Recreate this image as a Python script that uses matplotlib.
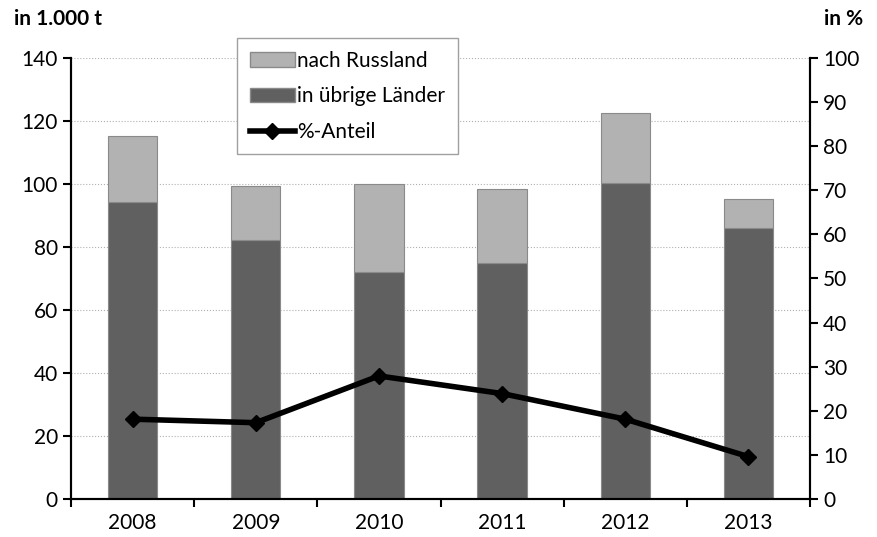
import matplotlib.pyplot as plt
from matplotlib.lines import Line2D
from matplotlib.patches import Patch

plt.rcParams['font.family'] = ['Lato', 'DejaVu Sans']

years = ['2008', '2009', '2010', '2011', '2012', '2013']
uebrige = [94.3, 82.2, 72.1, 74.9, 100.3, 86.0]
russland = [20.9, 17.2, 27.9, 23.5, 22.2, 9.2]
anteil = [18.1, 17.3, 27.9, 23.9, 18.1, 9.6]

fig = plt.figure(figsize=(8.78, 5.37), dpi=100)
ax = fig.add_axes([0.0809, 0.0708, 0.8417, 0.8212])
ax2 = ax.twinx()

x = list(range(len(years)))
ax.bar(x, uebrige, width=0.4, color='#606060', edgecolor='#8a8a8a', linewidth=0.8, zorder=2)
ax.bar(x, russland, width=0.4, bottom=uebrige, color='#b2b2b2', edgecolor='#8a8a8a', linewidth=0.8, zorder=2)

ax.set_xlim(-0.5, 5.5)
ax.set_ylim(0, 140)
ax.set_yticks(range(0, 141, 20))
ax.set_xticks([i - 0.5 for i in range(7)])
ax.set_xticklabels([])
ax.set_xticks(x, minor=True)
ax.set_xticklabels(years, minor=True)
ax.tick_params(axis='x', which='minor', length=0, labelsize=15, pad=10)
ax.tick_params(axis='x', which='major', direction='out', length=6, width=1.5)
ax.tick_params(axis='y', direction='out', length=6, width=1.5, labelsize=15)
ax.grid(axis='y', color='#b0b0b0', linestyle=':', linewidth=0.8, zorder=0)

ax2.plot(x, anteil, color='black', linewidth=4, marker='D', markersize=8, zorder=3)
ax2.set_ylim(0, 100)
ax2.set_yticks(range(0, 101, 10))
ax2.tick_params(axis='y', direction='out', length=6, width=1.5, labelsize=15)

for a in (ax, ax2):
    a.spines['top'].set_visible(False)
    for s in ('left', 'right', 'bottom'):
        a.spines[s].set_linewidth(1.5)

fig.text(0.016, 0.953, 'in 1.000 t', fontsize=15, fontweight='bold', ha='left')
fig.text(0.983, 0.953, 'in %', fontsize=15, fontweight='bold', ha='right')

handles = [Patch(facecolor='#b2b2b2', edgecolor='#8a8a8a'),
           Patch(facecolor='#606060', edgecolor='#8a8a8a'),
           Line2D([0], [0], color='black', linewidth=4, marker='D', markersize=8)]
labels = ['nach Russland', 'in übrige Länder', '%-Anteil']
leg = ax2.legend(handles, labels, loc='upper left', bbox_to_anchor=(0.2246, 1.045),
                 borderaxespad=0, fontsize=15, frameon=True, fancybox=False,
                 edgecolor='#a0a0a0', framealpha=1,
                 handlelength=2.2, handletextpad=0.1, labelspacing=0.75,
                 borderpad=0.6)
leg.get_frame().set_linewidth(1.0)

fig.savefig('out.png', dpi=100)
